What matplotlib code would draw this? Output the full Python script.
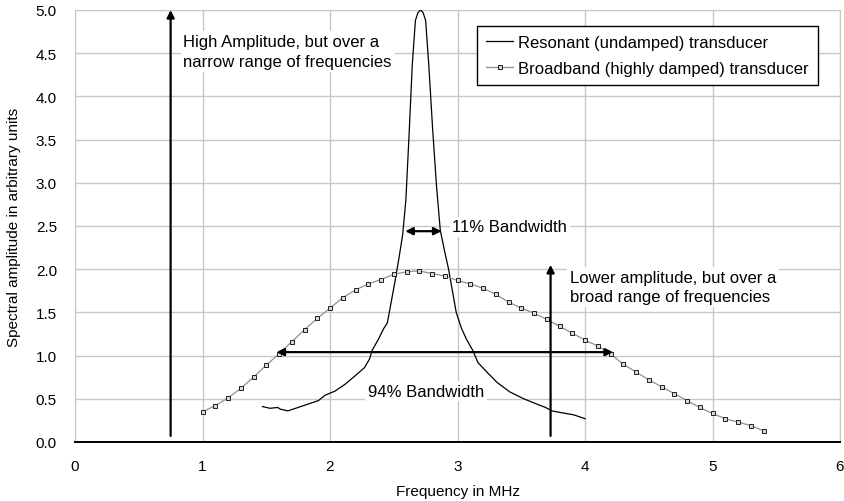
import matplotlib
matplotlib.use("Agg")
import matplotlib.pyplot as plt

plt.rcParams['font.family'] = ['Liberation Sans', 'DejaVu Sans']

# broadband (highly damped) transducer, one point every 0.1 MHz
freq_broad = [1.0, 1.1, 1.2, 1.3, 1.4, 1.5, 1.6, 1.7, 1.8, 1.9,
              2.0, 2.1, 2.2, 2.3, 2.4, 2.5, 2.6, 2.7, 2.8, 2.9,
              3.0, 3.1, 3.2, 3.3, 3.4, 3.5, 3.6, 3.7, 3.8, 3.9,
              4.0, 4.1, 4.2, 4.3, 4.4, 4.5, 4.6, 4.7, 4.8, 4.9,
              5.0, 5.1, 5.2, 5.3, 5.4]
amp_broad = [0.35, 0.42, 0.51, 0.62, 0.75, 0.89, 1.02, 1.16, 1.30, 1.43,
             1.55, 1.67, 1.76, 1.83, 1.88, 1.94, 1.97, 1.98, 1.95, 1.92,
             1.87, 1.83, 1.78, 1.71, 1.62, 1.55, 1.49, 1.42, 1.34, 1.26,
             1.18, 1.11, 1.02, 0.90, 0.81, 0.72, 0.64, 0.56, 0.48, 0.40,
             0.33, 0.27, 0.23, 0.19, 0.13]

# resonant (undamped) transducer
freq_res = [1.47, 1.53, 1.59, 1.61, 1.67, 1.75, 1.83, 1.91, 1.96, 2.04,
            2.12, 2.20, 2.27, 2.31, 2.33, 2.38, 2.42, 2.45, 2.48, 2.51,
            2.54, 2.57, 2.595, 2.62, 2.645, 2.67, 2.69, 2.71, 2.73, 2.75,
            2.775, 2.805, 2.835, 2.865, 2.90, 2.93, 2.96, 2.99, 3.03, 3.07,
            3.12, 3.16, 3.23, 3.31, 3.41, 3.52, 3.62, 3.69, 3.74, 3.83,
            3.91, 4.00]
amp_res = [0.41, 0.39, 0.40, 0.38, 0.36, 0.40, 0.44, 0.48, 0.54, 0.59,
           0.67, 0.77, 0.86, 0.96, 1.06, 1.19, 1.31, 1.38, 1.62, 1.86,
           2.12, 2.40, 2.80, 3.55, 4.36, 4.88, 4.97, 5.00, 4.97, 4.88,
           4.36, 3.62, 2.97, 2.45, 2.20, 2.00, 1.75, 1.50, 1.32, 1.19,
           1.06, 0.92, 0.81, 0.69, 0.58, 0.50, 0.44, 0.40, 0.36, 0.335,
           0.315, 0.27]

x_ticks = [0, 1, 2, 3, 4, 5, 6]
y_ticks = [0.0, 0.5, 1.0, 1.5, 2.0, 2.5, 3.0, 3.5, 4.0, 4.5, 5.0]

# annotation arrows: (x0, y0) -> (x1, y1) in data units
high_arrow = (0.75, 0.07, 0.75, 5.0)
low_arrow = (3.73, 0.07, 3.73, 2.05)
bw11_arrow = (2.59, 2.44, 2.875, 2.44)
bw94_arrow = (1.58, 1.04, 4.22, 1.04)

grid_col = '#c8c8c8'

fig = plt.figure(figsize=(8.44, 5.02), dpi=100)
ax = fig.add_axes([75 / 844, 59 / 502, 765 / 844, 432 / 502])

ax.plot(freq_res, amp_res, color='black', lw=0.9, label='Resonant (undamped) transducer', zorder=3)
ax.plot(freq_broad, amp_broad, color='#909090', lw=0.9, marker='s', ms=3.2,
        mfc='#d8d8d8', mec='#202020', mew=0.7,
        label='Broadband (highly damped) transducer', zorder=3)

ax.set_xlim(0, 6)
ax.set_ylim(0, 5)
ax.set_xticks(x_ticks)
ax.set_yticks(y_ticks)
ax.set_yticklabels([f'{v:.1f}' for v in y_ticks])
ax.tick_params(axis='both', length=0, labelsize=11)
ax.tick_params(axis='y', pad=13)
ax.tick_params(axis='x', pad=12)
ax.grid(True, color=grid_col, lw=1)
ax.set_axisbelow(True)
for s in ['left', 'top', 'right']:
    ax.spines[s].set_color(grid_col)
ax.spines['bottom'].set_color('black')
ax.spines['bottom'].set_linewidth(1.4)

ax.set_xlabel('Frequency in MHz', fontsize=11, labelpad=8)
ax.set_ylabel('Spectral amplitude in arbitrary units', fontsize=11, labelpad=11)

arrow_kw = dict(arrowstyle='-|>', color='black', lw=1.6, mutation_scale=11,
                shrinkA=0, shrinkB=0)
dbl_kw = dict(arrowstyle='<|-|>', color='black', lw=1.6, mutation_scale=11,
              shrinkA=0, shrinkB=0)
for (x0, y0, x1, y1), kw in [(high_arrow, arrow_kw), (low_arrow, arrow_kw),
                             (bw11_arrow, dbl_kw), (bw94_arrow, dbl_kw)]:
    ax.annotate('', xy=(x1, y1), xytext=(x0, y0), arrowprops=kw, zorder=4)

box = dict(facecolor='white', edgecolor='none', pad=2)
ax.text(0.85, 4.72, 'High Amplitude, but over a\nnarrow range of frequencies',
        fontsize=12, va='top', ha='left', bbox=box, zorder=2, linespacing=1.4)
ax.text(3.88, 1.99, 'Lower amplitude, but over a\nbroad range of frequencies',
        fontsize=12, va='top', ha='left', bbox=box, zorder=2, linespacing=1.35)
ax.text(2.96, 2.49, '11% Bandwidth', fontsize=12, va='center', ha='left',
        bbox=box, zorder=2)
ax.text(2.30, 0.59, '94% Bandwidth', fontsize=12, va='center', ha='left',
        bbox=box, zorder=2)

leg = ax.legend(loc='upper left', bbox_to_anchor=(0.5255, 0.963), borderaxespad=0,
                fontsize=12, frameon=True, fancybox=False, framealpha=1,
                handlelength=1.6, handletextpad=0.3, labelspacing=0.65,
                borderpad=0.55)
leg.get_frame().set_edgecolor('black')
leg.get_frame().set_linewidth(1.0)
leg.set_zorder(5)

fig.savefig('out.png', dpi=100)
